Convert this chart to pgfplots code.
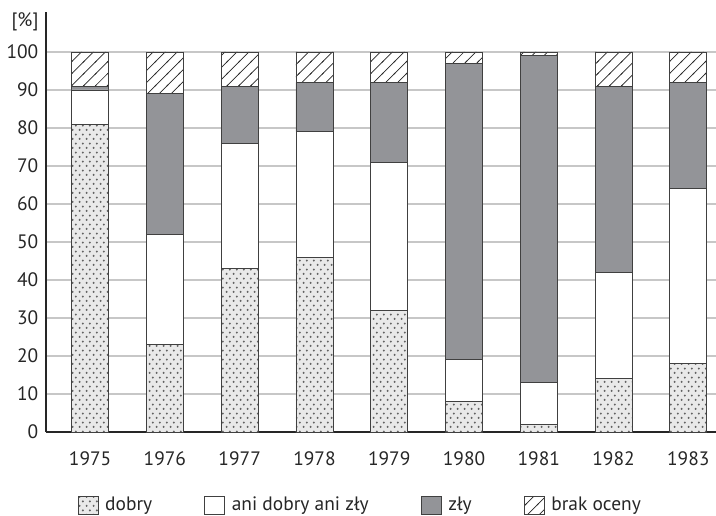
\documentclass[border=0pt]{standalone}
\usepackage{fontspec}
\setmainfont{PT Sans}
\usepackage{pgfplots}
\pgfplotsset{compat=1.18}
\usetikzlibrary{patterns.meta}
\tikzdeclarepattern{name=mydots, type=uncolored,
  bottom left={(0pt,0pt)}, top right={(7.2pt,8.8pt)}, tile size={(7.2pt,8.8pt)},
  code={\fill (1.8pt,2.2pt) circle (1.15pt); \fill (5.4pt,6.6pt) circle (1.15pt);}}
\tikzdeclarepattern{name=myhatch, type=uncolored,
  bottom left={(-1pt,-1pt)}, top right={(13pt,13pt)}, tile size={(12pt,12pt)},
  code={\draw[line width=0.7pt] (-1pt,-1pt)--(13pt,13pt);}}
\definecolor{zly}{HTML}{939498}
\definecolor{dotbg}{HTML}{E9E9E9}
\begin{document}
\begin{tikzpicture}
\fontsize{19.5}{22}\selectfont
\begin{axis}[
  width=670bp, height=420bp, scale only axis,
  xmin=-0.59, xmax=8.37, ymin=0, ymax=110.5,
  ybar stacked, bar width=0.495,
  xtick={0,...,8},
  xticklabels={1975,1976,1977,1978,1979,1980,1981,1982,1983},
  ytick={0,10,...,100},
  ymajorgrids, grid style={black!22, line width=1.2bp},
  axis x line=bottom, axis y line=left,
  axis line style={-, line width=1.4bp, black!85},
  major tick length=0pt,
  /pgf/number format/assume math mode=true,
  tick label style={font=\fontsize{19.5}{22}\selectfont, text=black!85},
  xticklabel style={yshift=-13bp},
  yticklabel style={xshift=-1bp},
  every axis plot/.append style={draw=black!75, line width=0.8bp},
  legend style={at={(axis description cs:0.469,-0.174)}, anchor=center,
    draw=none, fill=none, legend columns=4,
    font=\fontsize{19.5}{22}\selectfont, text=black!85,
    /tikz/every odd column/.append style={column sep=5bp},
    /tikz/every even column/.append style={column sep=50bp}},
  legend image code/.code={\draw[#1, line width=0.6bp] (0bp,-9bp) rectangle (20bp,9bp);},
  clip=false,
]
\addplot[fill=dotbg, postaction={pattern=mydots, pattern color=black!62}]
  coordinates {(0,81) (1,23) (2,43) (3,46) (4,32) (5,8) (6,2) (7,14) (8,18)};
\addlegendentry{dobry}
\addplot[fill=white]
  coordinates {(0,9) (1,29) (2,33) (3,33) (4,39) (5,11) (6,11) (7,28) (8,46)};
\addlegendentry{ani dobry ani zły}
\addplot[fill=zly]
  coordinates {(0,1) (1,37) (2,15) (3,13) (4,21) (5,78) (6,86) (7,49) (8,28)};
\addlegendentry{zły}
\addplot[fill=white, postaction={pattern=myhatch, pattern color=black!85}]
  coordinates {(0,9) (1,11) (2,9) (3,8) (4,8) (5,3) (6,1) (7,9) (8,8)};
\addlegendentry{brak oceny}
\node[text=black!85] at ([shift={(-21bp,-10bp)}]rel axis cs:0,1) {[\%]};
\end{axis}
\pgfresetboundingbox
\path[use as bounding box] ([shift={(-46bp,-84bp)}]current axis.south west) rectangle ++(716bp,516bp);
\end{tikzpicture}
\end{document}
